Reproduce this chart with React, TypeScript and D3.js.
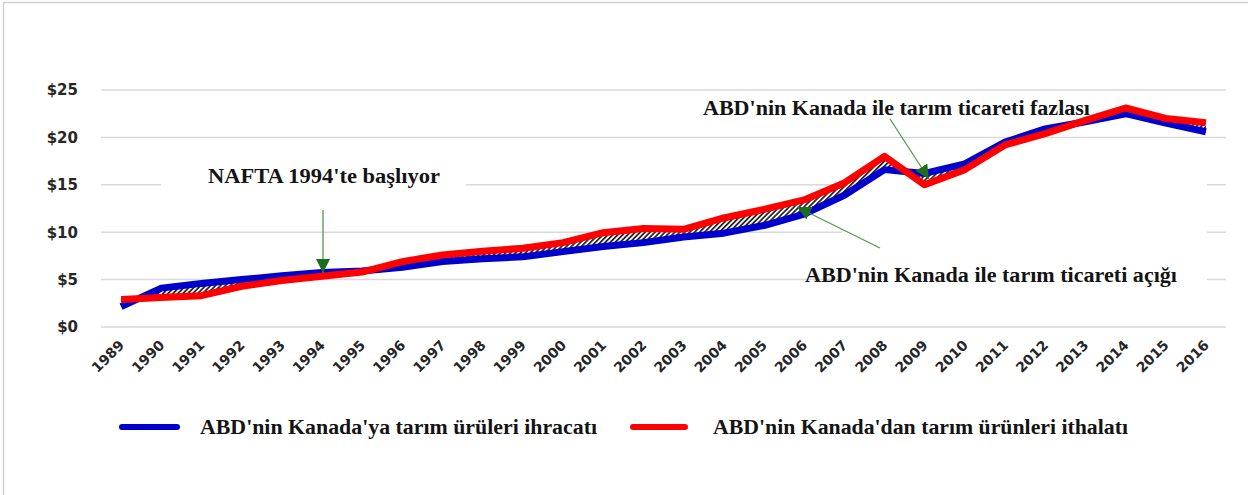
import React, { useEffect, useRef } from 'react';
import * as d3 from 'd3';

const years = [
  '1989', '1990', '1991', '1992', '1993', '1994', '1995', '1996', '1997', '1998',
  '1999', '2000', '2001', '2002', '2003', '2004', '2005', '2006', '2007', '2008',
  '2009', '2010', '2011', '2012', '2013', '2014', '2015', '2016',
];

// US agricultural exports to Canada (billion $)
const exportsToCanada = [
  2.15, 4.1, 4.6, 5.0, 5.4, 5.75, 5.9, 6.3, 6.9, 7.2,
  7.4, 7.95, 8.5, 8.9, 9.5, 9.9, 10.7, 11.9, 13.9, 16.6,
  16.2, 17.2, 19.5, 20.9, 21.65, 22.5, 21.5, 20.6,
];

// US agricultural imports from Canada (billion $)
const importsFromCanada = [
  2.9, 3.1, 3.3, 4.3, 4.9, 5.35, 5.8, 6.9, 7.6, 8.0,
  8.3, 8.9, 9.95, 10.4, 10.3, 11.5, 12.4, 13.4, 15.2, 18.0,
  15.0, 16.6, 19.2, 20.4, 21.8, 23.1, 22.0, 21.55,
];

const yTicks = [0, 5, 10, 15, 20, 25];

const seriesNames = [
  "ABD'nin Kanada'ya tarım ürüleri ihracatı",
  "ABD'nin Kanada'dan tarım ürünleri ithalatı",
];

const notes = {
  nafta: "NAFTA 1994'te başlıyor",
  surplus: "ABD'nin Kanada ile tarım ticareti fazlası",
  deficit: "ABD'nin Kanada ile tarım ticareti açığı",
};

const BLUE = '#0000cc';
const RED = '#ff0000';
const GRID = '#d9d9d9';
const SERIF = '"Liberation Serif", "Times New Roman", serif';
const SANS = '"DejaVu Sans", "Open Sans", sans-serif';

export default function App() {
  const svgRef = useRef<SVGSVGElement>(null);

  useEffect(() => {
    if (!svgRef.current) return;
    const svg = d3.select(svgRef.current);
    svg.selectAll('*').remove();

    const left = 101;
    const right = 1226;
    const top = 90;
    const bottom = 327;

    const x = d3.scalePoint<string>().domain(years).range([left, right]).padding(0.5);
    const y = d3.scaleLinear().domain([0, 25]).range([bottom, top]);

    const defs = svg.append('defs');
    const pat = defs
      .append('pattern')
      .attr('id', 'hatch')
      .attr('patternUnits', 'userSpaceOnUse')
      .attr('width', 3.5)
      .attr('height', 3.5)
      .attr('patternTransform', 'rotate(45)');
    pat.append('rect').attr('width', 3.5).attr('height', 3.5).attr('fill', '#fff');
    pat.append('rect').attr('width', 1.7).attr('height', 3.5).attr('fill', '#222');

    defs
      .append('marker')
      .attr('id', 'arr')
      .attr('viewBox', '0 0 10 10')
      .attr('refX', 10)
      .attr('refY', 5)
      .attr('markerUnits', 'userSpaceOnUse')
      .attr('markerWidth', 14)
      .attr('markerHeight', 14)
      .attr('orient', 'auto')
      .append('path')
      .attr('d', 'M0,0 L10,5 L0,10 z')
      .attr('fill', '#1c6e1c');

    // frame
    svg.append('line').attr('x1', 3).attr('x2', 1248).attr('y1', 2.5).attr('y2', 2.5).attr('stroke', '#d0d0d0').attr('stroke-width', 1.5);
    svg.append('line').attr('x1', 3.5).attr('x2', 3.5).attr('y1', 2).attr('y2', 495).attr('stroke', '#d0d0d0').attr('stroke-width', 1.5);

    // gridlines
    svg
      .append('g')
      .selectAll('line')
      .data(yTicks)
      .enter()
      .append('line')
      .attr('x1', left)
      .attr('x2', right)
      .attr('y1', (d) => y(d))
      .attr('y2', (d) => y(d))
      .attr('stroke', GRID)
      .attr('stroke-width', 1.5);

    // y labels
    svg
      .append('g')
      .selectAll('text')
      .data(yTicks)
      .enter()
      .append('text')
      .attr('x', 78)
      .attr('y', (d) => y(d))
      .attr('dy', '0.36em')
      .attr('text-anchor', 'end')
      .style('font-family', SANS)
      .style('font-weight', '700')
      .style('font-size', '15px')
      .style('fill', '#262626')
      .text((d) => `$${d}`);

    // x labels
    svg
      .append('g')
      .selectAll('text')
      .data(years)
      .enter()
      .append('text')
      .attr('transform', (d) => `translate(${(x(d) as number) + 4},${bottom + 19}) rotate(-45)`)
      .attr('text-anchor', 'end')
      .style('font-family', SANS)
      .style('font-weight', '700')
      .style('font-size', '14px')
      .style('fill', '#262626')
      .text((d) => d);

    // white boxes behind annotation text
    svg.append('rect').attr('x', 161).attr('y', 160).attr('width', 305).attr('height', 36).attr('fill', '#fff');
    svg.append('rect').attr('x', 842).attr('y', 176).attr('width', 365).attr('height', 125).attr('fill', '#fff');

    const pts = years.map((yr, i) => ({ yr, ex: exportsToCanada[i], im: importsFromCanada[i] }));

    const area = d3
      .area<{ yr: string; ex: number; im: number }>()
      .x((d) => x(d.yr) as number)
      .y0((d) => y(d.ex))
      .y1((d) => y(d.im));
    svg.append('path').datum(pts).attr('d', area).attr('fill', 'url(#hatch)');

    const lineGen = d3
      .line<number>()
      .x((_, i) => x(years[i]) as number);

    svg
      .append('path')
      .datum(exportsToCanada)
      .attr('d', lineGen.y((d) => y(d)))
      .attr('fill', 'none')
      .attr('stroke', BLUE)
      .attr('stroke-width', 7)
      .attr('stroke-linejoin', 'round');

    svg
      .append('path')
      .datum(importsFromCanada)
      .attr('d', lineGen.y((d) => y(d)))
      .attr('fill', 'none')
      .attr('stroke', RED)
      .attr('stroke-width', 7)
      .attr('stroke-linejoin', 'round');

    const label = (tx: number, ty: number, w: number, s: string) =>
      svg
        .append('text')
        .attr('x', tx)
        .attr('y', ty)
        .attr('textLength', w)
        .attr('lengthAdjust', 'spacingAndGlyphs')
        .style('font-family', SERIF)
        .style('font-weight', '700')
        .style('font-size', '20px')
        .style('fill', '#141414')
        .text(s);

    // annotations
    label(208, 183, 232, notes.nafta);
    label(703, 115, 387, notes.surplus);
    label(805, 282, 372, notes.deficit);

    const arrow = (x1: number, y1: number, x2: number, y2: number) =>
      svg
        .append('line')
        .attr('x1', x1)
        .attr('y1', y1)
        .attr('x2', x2)
        .attr('y2', y2)
        .attr('stroke', '#4f9a4f')
        .attr('stroke-width', 1.3)
        .attr('marker-end', 'url(#arr)');

    arrow(323, 210, 323, 273);
    arrow(890, 119, 929, 179);
    arrow(880, 248, 797, 207);

    // legend
    const legend = svg.append('g');
    const legendItems = [
      { x1: 122, x2: 177, tx: 200, w: 397, color: BLUE, name: seriesNames[0] },
      { x1: 633, x2: 685, tx: 713, w: 415, color: RED, name: seriesNames[1] },
    ];
    legendItems.forEach((it) => {
      legend
        .append('line')
        .attr('x1', it.x1)
        .attr('x2', it.x2)
        .attr('y1', 427)
        .attr('y2', 427)
        .attr('stroke', it.color)
        .attr('stroke-width', 6)
        .attr('stroke-linecap', 'round');
      label(it.tx, 434, it.w, it.name);
    });
  }, []);

  return (
    <div style={{ position: 'absolute', left: 0, top: 0, width: 1248, height: 495, background: '#fff' }}>
      <svg ref={svgRef} width={1248} height={495}></svg>
    </div>
  );
}
